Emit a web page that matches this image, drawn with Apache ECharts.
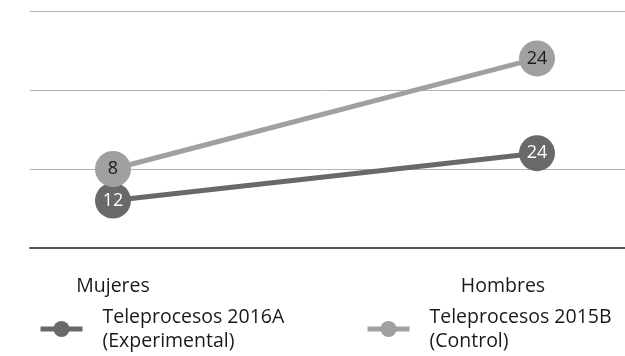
<!DOCTYPE html>
<html>
<head>
<meta charset="utf-8">
<script src="https://cdn.jsdelivr.net/npm/echarts@6/dist/echarts.min.js"></script>
<style>
  html, body { margin: 0; padding: 0; background: #fff; }
  #chart { width: 625px; height: 356px; }
</style>
</head>
<body>
<div id="chart"></div>
<script>
// Categories and per-group values (series are stacked)
const categories = ['Mujeres', 'Hombres'];
const seriesNames = ['Teleprocesos 2016A\n(Experimental)', 'Teleprocesos 2015B\n(Control)'];
const experimental = [12, 24];
const control = [8, 24];

const FONT = '"Open Sans", "Noto Sans", sans-serif';
const DARK = '#69696c';
const LIGHT = '#a0a0a3';
const TEXT = '#1a1a1a';
const Y_MAX = 60;
const Y_STEP = 20;

const chart = echarts.init(document.getElementById('chart'), null, { renderer: 'canvas' });

function lineSeries(name, vals, color, labelColor) {
  return {
    name: name,
    type: 'line',
    stack: 'total',
    xAxisIndex: 0,
    yAxisIndex: 0,
    data: vals,
    symbol: 'circle',
    symbolSize: 36,
    lineStyle: { color: color, width: 5 },
    itemStyle: { color: color },
    label: {
      show: true,
      position: 'inside',
      color: labelColor,
      fontFamily: FONT,
      fontSize: 18
    },
    emphasis: { disabled: true },
    animation: false
  };
}

function legendAt(left, name) {
  return {
    left: left,
    top: 305,
    padding: 0,
    data: [name],
    itemWidth: 42,
    itemHeight: 20,
    selectedMode: false,
    lineStyle: { width: 5 },
    textStyle: {
      fontFamily: FONT,
      fontSize: 19.5,
      color: TEXT,
      lineHeight: 24,
      padding: [0, 0, 0, 15]
    }
  };
}

chart.setOption({
  animation: false,
  grid: [
    // plotting area: the two category points
    { left: 113, right: 88, top: 11, bottom: 108 },
    // full-width backdrop carrying the horizontal rules and baseline
    { left: 30, right: 0, top: 11, bottom: 108 }
  ],
  xAxis: [
    {
      type: 'category',
      gridIndex: 0,
      data: categories,
      boundaryGap: false,
      axisLine: { show: false },
      axisTick: { show: false },
      axisLabel: {
        margin: 28,
        formatter: (v, i) => (i === 1 ? '{h|' + v + '}' : '{m|' + v + '}'),
        rich: {
          m: { fontFamily: FONT, fontSize: 19.5, color: TEXT },
          h: { fontFamily: FONT, fontSize: 19.5, color: TEXT, padding: [0, 68, 0, 0] }
        }
      }
    },
    {
      type: 'value',
      gridIndex: 1,
      min: 0,
      max: 1,
      splitLine: { show: false },
      axisTick: { show: false },
      axisLabel: { show: false },
      axisLine: { show: true, lineStyle: { color: '#555', width: 2 } }
    }
  ],
  yAxis: [
    {
      type: 'value',
      gridIndex: 0,
      min: 0,
      max: Y_MAX,
      interval: Y_STEP,
      show: false
    },
    {
      type: 'value',
      gridIndex: 1,
      min: 0,
      max: Y_MAX,
      interval: Y_STEP,
      axisLabel: { show: false },
      axisLine: { show: false },
      axisTick: { show: false },
      splitLine: { lineStyle: { color: '#b3b3b3', width: 1 } }
    }
  ],
  legend: [legendAt(38, seriesNames[0]), legendAt(365, seriesNames[1])],
  series: [
    lineSeries(seriesNames[0], experimental, DARK, '#ffffff'),
    lineSeries(seriesNames[1], control, LIGHT, TEXT)
  ]
});
</script>
</body>
</html>
